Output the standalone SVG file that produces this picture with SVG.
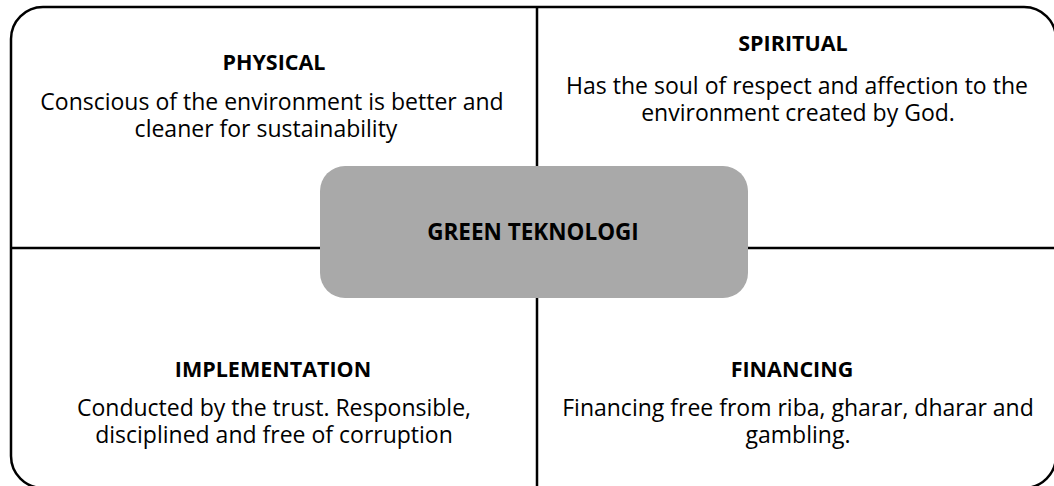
<svg xmlns="http://www.w3.org/2000/svg" width="1054" height="486" viewBox="0 0 1054 486">
<style>
.ln{stroke:#000;stroke-width:2.5;fill:none}
.t{font-family:"Open Sans","Noto Sans",sans-serif;font-weight:bold;font-size:21.5px;text-anchor:middle;fill:#000}
.b{font-family:"Open Sans","Noto Sans",sans-serif;font-size:23px;text-anchor:middle;fill:#000}
</style>
<rect width="1054" height="486" fill="#fff"/>
<g id="connectors">
<rect class="ln" x="11" y="7" width="1045" height="481" rx="32"/>
<line class="ln" x1="537" y1="7" x2="537" y2="488"/>
<line class="ln" x1="11" y1="248" x2="1056" y2="248"/>
</g>
<g id="physical">
<text class="t" x="274" y="70">PHYSICAL</text>
<text class="b" x="272" y="110">Conscious of the environment is better and</text>
<text class="b" x="266" y="137">cleaner for sustainability</text>
</g>
<g id="spiritual">
<text class="t" x="793" y="51">SPIRITUAL</text>
<text class="b" x="797" y="94">Has the soul of respect and affection to the</text>
<text class="b" x="798" y="121">environment created by God.</text>
</g>
<g id="implementation">
<text class="t" x="273" y="377">IMPLEMENTATION</text>
<text class="b" x="274" y="416">Conducted by the trust. Responsible,</text>
<text class="b" x="274" y="443">disciplined and free of corruption</text>
</g>
<g id="financing">
<text class="t" x="792" y="377">FINANCING</text>
<text class="b" x="798" y="416">Financing free from riba, gharar, dharar and</text>
<text class="b" x="798" y="443">gambling.</text>
</g>
<g id="green">
<rect x="320" y="166" width="428" height="132" rx="25" fill="#a9a9a9"/>
<text class="t" x="533" y="240" style="font-size:22.5px">GREEN TEKNOLOGI</text>
</g>
</svg>
